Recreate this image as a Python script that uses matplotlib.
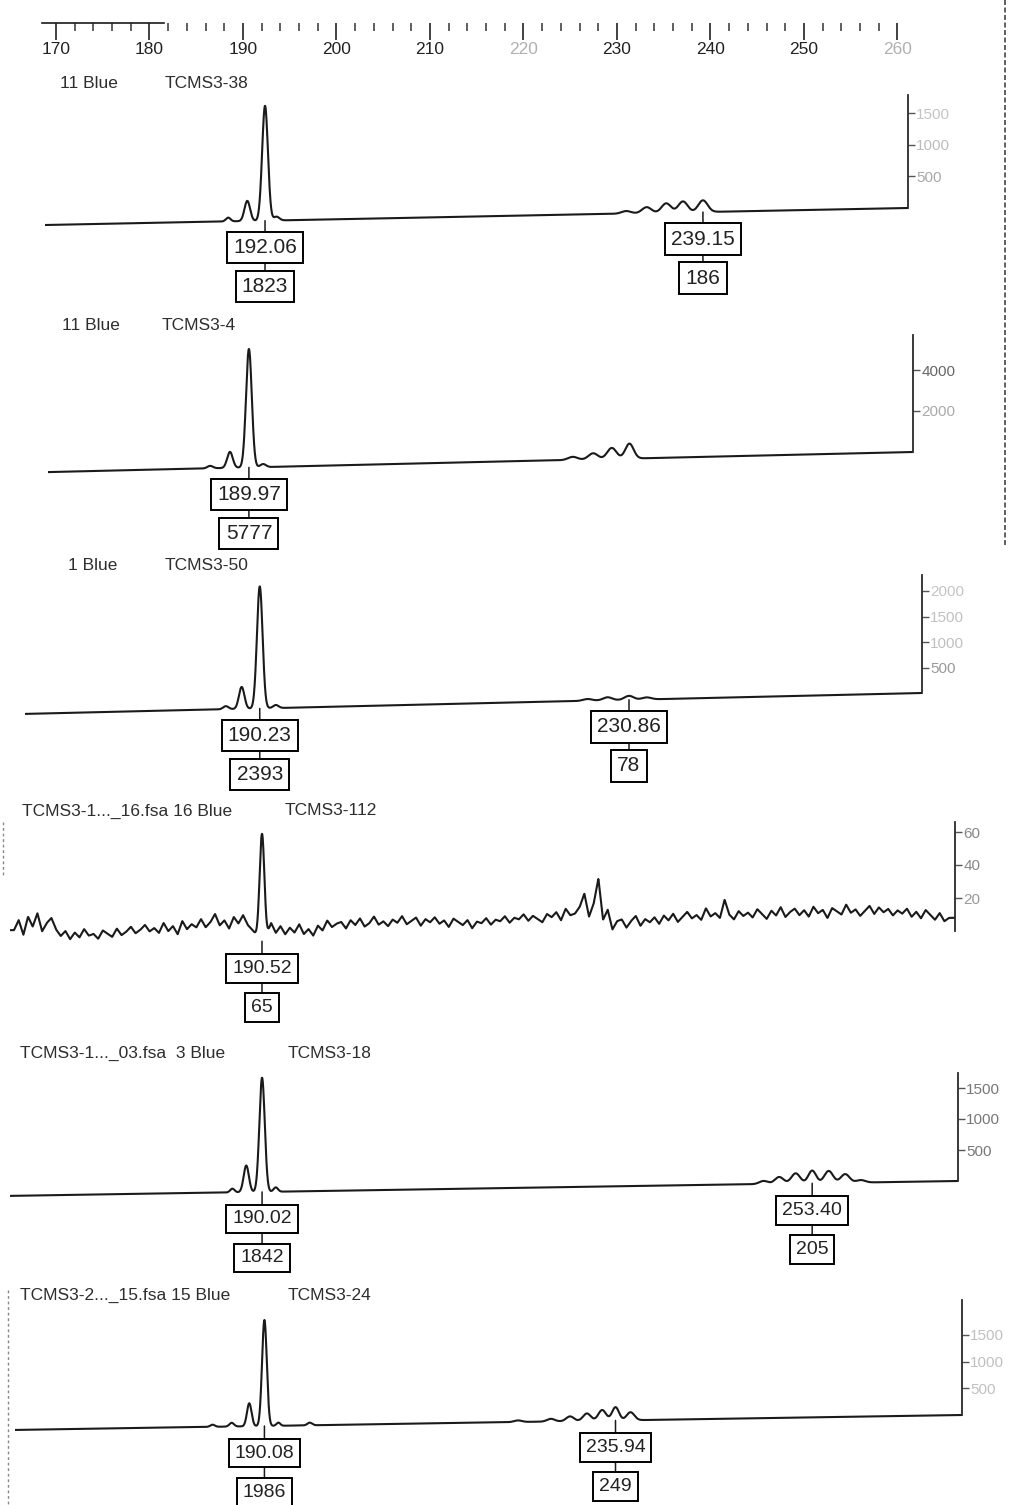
import numpy as np
import matplotlib
matplotlib.use("Agg")
import matplotlib.pyplot as plt
from matplotlib import font_manager
from matplotlib.lines import Line2D

# ---------------------------------------------------------------- data
ruler_majors = [170, 180, 190, 200, 210, 220, 230, 240, 250, 260]
ruler_faint = [220, 260]

run_labels = ["11 Blue", "11 Blue", "1 Blue",
              "TCMS3-1..._16.fsa 16 Blue",
              "TCMS3-1..._03.fsa  3 Blue",
              "TCMS3-2..._15.fsa 15 Blue"]
sample_names = ["TCMS3-38", "TCMS3-4", "TCMS3-50",
                "TCMS3-112", "TCMS3-18", "TCMS3-24"]

# peaks per sample: size (bp), height (RFU), width (sigma, bp)
p1_sizes = [188.1, 190.15, 192.06, 193.3, 230.9, 233.1, 235.2, 237.0, 239.15]
p1_heights = [60, 320, 1823, 60, 40, 95, 150, 175, 186]
p1_sigmas = [0.25, 0.3, 0.31, 0.3, 0.5, 0.5, 0.5, 0.5, 0.5]
p1_called_size = [192.06, 239.15]
p1_called_height = [1823, 186]
p1_drift = 270
p1_ticks = [500, 1000, 1500]

p2_sizes = [185.8, 187.93, 189.97, 191.5, 224.8, 227.0, 229.0, 230.9]
p2_heights = [120, 780, 5777, 150, 150, 300, 540, 730]
p2_sigmas = [0.3, 0.3, 0.31, 0.3, 0.5, 0.5, 0.5, 0.45]
p2_called_size = [189.97]
p2_called_height = [5777]
p2_drift = 980
p2_ticks = [2000, 4000]

p3_sizes = [186.5, 188.24, 190.23, 192.0, 226.3, 228.5, 230.86, 232.8]
p3_heights = [60, 430, 2393, 60, 35, 60, 78, 40]
p3_sigmas = [0.3, 0.3, 0.31, 0.3, 0.5, 0.5, 0.5, 0.5]
p3_called_size = [190.23, 230.86]
p3_called_height = [2393, 78]
p3_drift = 410
p3_ticks = [500, 1000, 1500, 2000]

p4_sizes = [190.52]
p4_heights = [65]
p4_sigmas = [0.25]
p4_called_size = [190.52]
p4_called_height = [65]
p4_drift = 8.5
p4_ticks = [20, 40, 60]
# background noise of the weak sample, one reading every 0.5 bp from 164 bp
p4_noise_start = 164.0
p4_noise_step = 0.5
p4_noise = [
    9, 15, 6, 17, 11, 19, 8, 13, 16, 9,
    5, 8, 3, 7, 4, 9, 5, 6, 3, 8,
    6, 4, 9, 5, 7, 10, 6, 8, 11, 7,
    9, 6, 12, 7, 10, 5, 13, 8, 11, 9,
    14, 9, 12, 17, 10, 13, 8, 15, 11, 16,
    10, 7, 3, 0, 3, 11, 5, 9, 4, 8,
    5, 10, 4, 7, 3, 9, 6, 12, 8, 10,
    11, 7, 12, 9, 13, 8, 10, 14, 9, 11,
    8, 12, 10, 14, 9, 11, 13, 8, 12, 10,
    13, 9, 11, 7, 12, 10, 8, 11, 6, 10,
    9, 12, 8, 11, 10, 13, 9, 12, 11, 14,
    10, 13, 11, 9, 14, 12, 15, 10, 17, 13,
    14, 18, 26, 12, 20, 35, 10, 16, 4, 9,
    10, 5, 9, 12, 6, 10, 8, 11, 7, 12,
    9, 13, 8, 11, 14, 10, 12, 9, 16, 11,
    13, 10, 21, 12, 9, 14, 11, 13, 10, 15,
    12, 9, 14, 11, 16, 10, 13, 15, 11, 14,
    10, 16, 12, 14, 9, 15, 13, 11, 17, 12,
    14, 10, 13, 16, 11, 15, 12, 14, 10, 13,
    11, 14, 9, 12, 8, 13, 10, 7, 11, 6,
    8]

p5_sizes = [186.6, 188.2, 190.02, 191.6, 247.8, 249.6, 251.5, 253.40, 255.3, 257.2, 259.0]
p5_heights = [60, 430, 1842, 70, 50, 110, 165, 205, 195, 140, 40]
p5_sigmas = [0.25, 0.3, 0.31, 0.25, 0.5, 0.5, 0.5, 0.45, 0.5, 0.5, 0.5]
p5_called_size = [190.02, 253.40]
p5_called_height = [1842, 205]
p5_drift = 240
p5_ticks = [500, 1000, 1500]

p6_sizes = [183.3, 185.8, 188.1, 190.08, 191.9, 196.0,
            223.2, 227.5, 230.0, 232.2, 234.2, 235.94, 237.9]
p6_heights = [40, 70, 430, 1986, 60, 50, 30, 50, 90, 140, 200, 249, 150]
p6_sigmas = [0.3, 0.3, 0.3, 0.31, 0.25, 0.3, 0.5, 0.5, 0.5, 0.5, 0.5, 0.45, 0.5]
p6_called_size = [190.08, 235.94]
p6_called_height = [1986, 249]
p6_drift = 280
p6_ticks = [500, 1000, 1500]

# ---------------------------------------------------------------- page setup
W, H, DPI = 1017, 1505, 100
fig = plt.figure(figsize=(W / DPI, H / DPI), dpi=DPI)
fig.patch.set_facecolor("white")

available = {f.name for f in font_manager.fontManager.ttflist}
NARROW = "Liberation Sans Narrow" if "Liberation Sans Narrow" in available else "Liberation Sans"
SANS = "Liberation Sans" if "Liberation Sans" in available else "DejaVu Sans"
INK = "#1a1a1a"


def fx(px):
    return px / W


def fy(py):
    return 1 - py / H


def add_axes_px(left, top, right, bottom):
    return fig.add_axes([fx(left), fy(bottom), (right - left) / W, (bottom - top) / H])


# ---------------------------------------------------------------- size ruler
rx0, rx1 = 40, 930
rscale = 9.35
rax = add_axes_px(rx0, 23, rx1, 35)
rax.set_xlim(170 - (56 - rx0) / rscale, 170 + (rx1 - 56) / rscale)
rax.set_ylim(0, 1)
rax.set_facecolor("none")
for side in ("left", "right", "bottom"):
    rax.spines[side].set_visible(False)
rax.spines["top"].set_color(INK)
rax.spines["top"].set_linewidth(1.2)
rax.spines["top"].set_bounds(168.5, 181.5)
rax.yaxis.set_visible(False)
rax.set_xticks(ruler_majors)
rax.set_xticks([v for v in range(172, 260, 2) if v % 10], minor=True)
rax.set_xticklabels([str(v) for v in ruler_majors])
rax.tick_params(axis="x", which="both", top=True, bottom=False, labeltop=False,
                labelbottom=True, direction="in", color="#333333")
rax.tick_params(axis="x", which="major", length=12, width=1.3, pad=5, labelsize=12.5)
rax.tick_params(axis="x", which="minor", length=6, width=1.1)
for lab, v in zip(rax.get_xticklabels(), ruler_majors):
    lab.set_fontfamily(NARROW)
    lab.set_color("#b0b0b0" if v in ruler_faint else "#222222")

# ---------------------------------------------------------------- traces
samples = [
    dict(sizes=p1_sizes, heights=p1_heights, sigmas=p1_sigmas, called=p1_called_size,
         called_h=p1_called_height, drift=p1_drift, ticks=p1_ticks, noise=None),
    dict(sizes=p2_sizes, heights=p2_heights, sigmas=p2_sigmas, called=p2_called_size,
         called_h=p2_called_height, drift=p2_drift, ticks=p2_ticks, noise=None),
    dict(sizes=p3_sizes, heights=p3_heights, sigmas=p3_sigmas, called=p3_called_size,
         called_h=p3_called_height, drift=p3_drift, ticks=p3_ticks, noise=None),
    dict(sizes=p4_sizes, heights=p4_heights, sigmas=p4_sigmas, called=p4_called_size,
         called_h=p4_called_height, drift=p4_drift, ticks=p4_ticks,
         noise=(p4_noise_start, p4_noise_step, p4_noise)),
    dict(sizes=p5_sizes, heights=p5_heights, sigmas=p5_sigmas, called=p5_called_size,
         called_h=p5_called_height, drift=p5_drift, ticks=p5_ticks, noise=None),
    dict(sizes=p6_sizes, heights=p6_heights, sigmas=p6_sigmas, called=p6_called_size,
         called_h=p6_called_height, drift=p6_drift, ticks=p6_ticks, noise=None),
]

# panel placement on the page (pixels) and per-panel tick label shades
layout = [
    dict(left=45, right=908, xlim=(168.4, 261.2), zero=208, ppu=0.063, top=95,
         title_y=84, run_x=60, name_x=165, shades=["#a8a8a8", "#bdbdbd", "#c4c4c4"], fs=15),
    dict(left=48, right=913, xlim=(168.36, 261.4), zero=452, ppu=0.0205, top=335,
         title_y=326, run_x=62, name_x=162, shades=["#aaaaaa", "#666666"], fs=15),
    dict(left=25, right=922, xlim=(164.4, 263.1), zero=693, ppu=0.051, top=575,
         title_y=565, run_x=68, name_x=165, shades=["#999999", "#c0c0c0", "#c0c0c0", "#c4c4c4"], fs=15),
    dict(left=10, right=955, xlim=(163.57, 264.64), zero=931, ppu=1.65, top=822,
         title_y=811, run_x=22, name_x=285, shades=["#999999", "#888888", "#888888"], fs=14),
    dict(left=10, right=958, xlim=(160.98, 270.2), zero=1181, ppu=0.062, top=1073,
         title_y=1053, run_x=20, name_x=288, shades=["#777777", "#777777", "#777777"], fs=14),
    dict(left=15, right=962, xlim=(157.5, 281.2), zero=1415, ppu=0.0534, top=1300,
         title_y=1295, run_x=20, name_x=288, shades=["#c0c0c0", "#c0c0c0", "#c0c0c0"], fs=14),
]

box_style = dict(boxstyle="square,pad=0.3", fc="white", ec="black", lw=1.4)

for i, (s, L) in enumerate(zip(samples, layout)):
    x0, x1 = L["xlim"]
    drift_px = s["drift"] * L["ppu"]
    top_px = L["top"] - 15
    bot_px = L["zero"] + drift_px + 6
    ax = add_axes_px(L["left"], top_px, L["right"], bot_px)
    ax.set_facecolor("none")
    ax.set_xlim(x0, x1)
    ax.set_ylim((L["zero"] - bot_px) / L["ppu"], (L["zero"] - top_px) / L["ppu"])

    def baseline(v, x0=x0, x1=x1, d=s["drift"]):
        return -d * (x1 - np.asarray(v, dtype=float)) / (x1 - x0)

    x = np.linspace(x0, x1, 5000)
    y = baseline(x)
    for c, h, sg in zip(s["sizes"], s["heights"], s["sigmas"]):
        y = y + h * np.exp(-0.5 * ((x - c) / sg) ** 2)
    if s["noise"] is not None:
        start, step, vals = s["noise"]
        nx = start + step * np.arange(len(vals))
        y = y + np.interp(x, nx, vals)
    ax.plot(x, y, color=INK, lw=1.5, solid_joinstyle="round")

    # right-hand intensity scale
    for side in ("left", "top", "bottom"):
        ax.spines[side].set_visible(False)
    ax.spines["right"].set_color("#2a2a2a")
    ax.spines["right"].set_linewidth(1.3)
    ax.spines["right"].set_bounds(0, (L["zero"] - L["top"]) / L["ppu"])
    ax.set_xticks([])
    ax.yaxis.tick_right()
    ax.set_yticks(s["ticks"])
    ax.set_yticklabels([str(t) for t in s["ticks"]])
    ax.tick_params(axis="y", direction="out", length=5, width=1.0, pad=1,
                   labelsize=11, color="#555555")
    for lab, c in zip(ax.get_yticklabels(), L["shades"]):
        lab.set_color(c)
        lab.set_fontfamily(NARROW)

    # called peak boxes: size above, height below
    for bp, hv in zip(s["called"], s["called_h"]):
        base = float(baseline(bp))
        ax.annotate(str(hv), xy=(bp, base), xytext=(0, -66), textcoords="offset pixels",
                    ha="center", va="center", fontsize=L["fs"], family=SANS, color="#222222",
                    bbox=box_style, zorder=4,
                    arrowprops=dict(arrowstyle="-", lw=1.1, color=INK, shrinkA=0, shrinkB=0))
        ax.annotate(f"{bp:.2f}", xy=(bp, base), xytext=(0, -27), textcoords="offset pixels",
                    ha="center", va="center", fontsize=L["fs"], family=SANS, color="#222222",
                    bbox=box_style, zorder=5)

    # sample header line
    fig.text(fx(L["run_x"]), fy(L["title_y"]), run_labels[i], ha="left", va="center",
             fontsize=12.5, family=SANS, color="#2e2e2e")
    fig.text(fx(L["name_x"]), fy(L["title_y"]), sample_names[i], ha="left", va="center",
             fontsize=12.5, family=SANS, color="#2e2e2e")

# page edge rules
fig.add_artist(Line2D([fx(1005), fx(1005)], [fy(0), fy(545)], transform=fig.transFigure,
                      color="#444444", lw=1.2, ls=(0, (3, 1.5))))
fig.add_artist(Line2D([fx(8), fx(8)], [fy(1290), fy(1505)], transform=fig.transFigure,
                      color="#888888", lw=1.0, ls=(0, (2, 2))))
fig.add_artist(Line2D([fx(3), fx(3)], [fy(822), fy(875)], transform=fig.transFigure,
                      color="#888888", lw=1.0, ls=(0, (2, 2))))

fig.savefig("out.png", dpi=DPI, facecolor="white")
